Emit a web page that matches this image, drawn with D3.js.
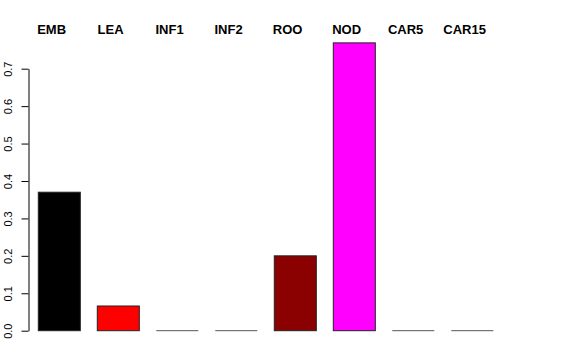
<!DOCTYPE html>
<html>
<head>
<meta charset="utf-8">
<script src="https://cdn.jsdelivr.net/npm/d3@7"></script>
<style>
	body { margin: 0; background: #fff; }
	svg { display: block; font-family: "Liberation Sans", Arial, sans-serif; }
</style>
</head>
<body>
<svg id="chart" width="576" height="360"></svg>
<script>
var categories = ["EMB", "LEA", "INF1", "INF2", "ROO", "NOD", "CAR5", "CAR15"];
var values = [0.370, 0.066, 0, 0, 0.200, 0.769, 0, 0];
var barColors = ["black", "red", "green", "blue", "darkred", "magenta", "gold", "gray"];
var yTicks = [0, 0.1, 0.2, 0.3, 0.4, 0.5, 0.6, 0.7];

var svg = d3.select("#chart");

var x = d3.scaleBand()
	.domain(categories)
	.range([29.8, 501.8])
	.paddingInner(0.288)
	.paddingOuter(0.144);

var y = d3.scaleLinear()
	.domain([0, 0.7])
	.range([330.7, 68.7]);

var data = categories.map(function(c, i) {
	return { name: c, value: values[i], color: barColors[i] };
});

// bars, R style with black border
svg.selectAll("rect.bar")
	.data(data)
	.enter()
	.append("rect")
	.attr("class", "bar")
	.attr("x", function(d) { return x(d.name); })
	.attr("y", function(d) { return y(d.value); })
	.attr("width", x.bandwidth())
	.attr("height", function(d) { return y(0) - y(d.value); })
	.attr("fill", function(d) { return d.color; })
	.attr("stroke", "#222")
	.attr("stroke-width", 1);

// zero bars only show their outline
svg.selectAll("line.zero")
	.data(data.filter(function(d) { return d.value === 0; }))
	.enter()
	.append("line")
	.attr("class", "zero")
	.attr("x1", function(d) { return x(d.name); })
	.attr("x2", function(d) { return x(d.name) + x.bandwidth(); })
	.attr("y1", y(0))
	.attr("y2", y(0))
	.attr("stroke", "#555")
	.attr("stroke-width", 1);

// left axis
var axis = d3.axisLeft(y)
	.tickValues(yTicks)
	.tickFormat(d3.format(".1f"))
	.tickSize(7)
	.tickSizeOuter(0);

var g = svg.append("g")
	.attr("transform", "translate(28.5,0)")
	.call(axis);

g.select(".domain").attr("stroke", "#000");
g.selectAll(".tick line").attr("stroke", "#000");
g.selectAll(".tick text")
	.attr("x", null)
	.attr("dy", null)
	.attr("transform", "translate(-16.5,0) rotate(-90)")
	.attr("text-anchor", "middle")
	.attr("fill", "#000")
	.style("font-size", "11px")
	.style("font-family", "Liberation Sans, Arial, sans-serif");

// category labels across the top
svg.selectAll("text.cat")
	.data(data)
	.enter()
	.append("text")
	.attr("class", "cat")
	.attr("x", function(d) { return x(d.name) + x.bandwidth() / 2 - 7.7; })
	.attr("y", 34)
	.attr("text-anchor", "middle")
	.attr("font-weight", "bold")
	.attr("font-size", "13px")
	.text(function(d) { return d.name; });
</script>
</body>
</html>
